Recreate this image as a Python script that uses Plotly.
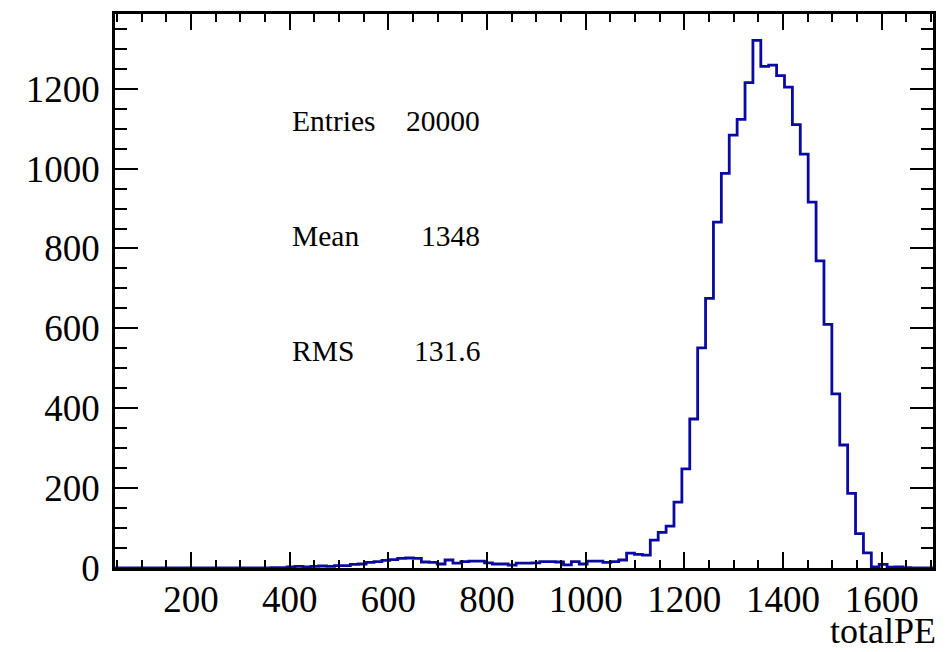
import plotly.graph_objects as go

# Histogram binning of totalPE (fixed-width bins)
bin_low = 43.0
bin_width = 16.0

# Bin contents, one entry per bin starting at bin_low
counts = [
    0, 0, 0, 0, 0, 0, 0, 0, 0, 0,
    0, 0, 0, 0, 0, 0, 0, 0, 0, 0,
    1, 1, 3, 4, 3, 4, 5, 4, 6, 6,
    9, 10, 14, 16, 19, 21, 24, 25, 24, 15,
    14, 10, 20, 12, 16, 17, 17, 13, 10, 10,
    7, 12, 12, 13, 16, 16, 15, 8, 16, 10,
    17, 17, 14, 16, 20, 37, 34, 32, 70, 89,
    105, 165, 248, 373, 551, 675, 866, 988, 1084, 1123,
    1215, 1321, 1256, 1259, 1233, 1204, 1110, 1036, 916, 769,
    610, 436, 308, 187, 86, 38, 3, 9, 2, 3,
    1, 0, 0, 0,
]

# Statistics box contents
stat_names = ["Entries", "Mean", "RMS"]
stat_values = ["20000", "1348", "131.6"]

x_title = "totalPE"
x_ticks = [200, 400, 600, 800, 1000, 1200, 1400, 1600]
y_ticks = [0, 200, 400, 600, 800, 1000, 1200]

edges = [bin_low + bin_width * i for i in range(len(counts) + 1)]
x_range = [46, 1704]
y_max = max(counts) * 1.05

font_family = "Liberation Serif, Times New Roman, serif"
line_color = "#0a0aa0"

fig = go.Figure()
fig.add_trace(go.Scatter(
    x=edges,
    y=counts + [counts[-1]],
    mode="lines",
    line=dict(shape="hv", color=line_color, width=2.8),
    hoverinfo="skip",
    showlegend=False,
))

axis_common = dict(
    showgrid=False,
    zeroline=False,
    showline=True,
    linecolor="black",
    linewidth=2.5,
    mirror="allticks",
    ticks="inside",
    tickcolor="black",
    tickwidth=2,
    tickfont=dict(family=font_family, size=37, color="black"),
)

fig.update_xaxes(
    range=x_range,
    tickvals=x_ticks,
    ticklen=16,
    minor=dict(ticks="inside", ticklen=8, tickwidth=2, tickcolor="black",
               dtick=50, tick0=0, showgrid=False),
    ticklabelstandoff=-3,
    **axis_common,
)
fig.update_yaxes(
    range=[0, y_max],
    tickvals=y_ticks,
    ticklen=23,
    minor=dict(ticks="inside", ticklen=12, tickwidth=2, tickcolor="black",
               dtick=50, tick0=0, showgrid=False),
    ticklabelstandoff=5,
    **axis_common,
)

# Statistics text
stat_y = [0.807, 0.600, 0.392]
for name, value, yp in zip(stat_names, stat_values, stat_y):
    fig.add_annotation(x=0.2134, y=yp, xref="paper", yref="paper", text=name,
                       showarrow=False, xanchor="left", yanchor="middle",
                       font=dict(family=font_family, size=29.5, color="black"))
    fig.add_annotation(x=0.449, y=yp, xref="paper", yref="paper", text=value,
                       showarrow=False, xanchor="right", yanchor="middle",
                       font=dict(family=font_family, size=29.5, color="black"))

# Axis title, right-aligned under the frame (compact box so it stays on the page)
fig.add_annotation(x=1.006, y=-0.1445, xref="paper", yref="paper", text=x_title,
                   showarrow=False, xanchor="right", yanchor="bottom",
                   height=30, valign="middle",
                   font=dict(family=font_family, size=36, color="black"))

fig.update_layout(
    width=947,
    height=652,
    margin=dict(l=115, r=12, t=11, b=84),
    paper_bgcolor="white",
    plot_bgcolor="white",
)

fig.write_html("out.html")
